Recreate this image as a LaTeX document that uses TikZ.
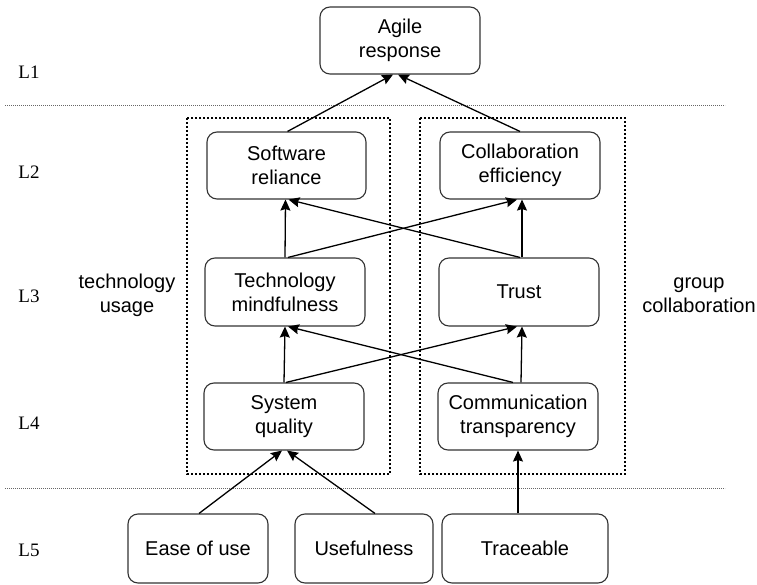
\documentclass[tikz,border=0pt]{standalone}
\usepackage{fontspec}
\setmainfont{Liberation Sans}
\newfontfamily\lvlfont{Liberation Serif}
\usetikzlibrary{arrows.meta, calc}
\definecolor{boxline}{HTML}{333333}
\tikzstyle{blk}=[draw=boxline, line width=1.1pt, rounded corners=10pt, align=center, inner sep=0pt, minimum width=160pt, minimum height=67pt, font=\fontsize{20}{24}\selectfont]
\tikzstyle{lvl}=[font=\lvlfont\fontsize{19}{22}\selectfont]
\tikzstyle{grp}=[align=center, font=\fontsize{20}{24}\selectfont]
\tikzstyle{sep}=[gray!80!black, line width=0.8pt, dash pattern=on 0.8pt off 1.2pt]
\tikzstyle{cluster}=[black, line width=2pt, dash pattern=on 2pt off 2pt]
\tikzstyle{lnk}=[line width=1.3pt, ->]
\tikzset{>={Stealth[length=11pt, width=10pt, inset=1.5pt]}}

\begin{document}
\begin{tikzpicture}[x=1pt, y=-1pt]
\useasboundingbox (0,0) rectangle (757,585);
\node[blk] (AR) at (400,40.5) {Agile\\response};
\node[blk, minimum width=159pt] (SR) at (286.5,165.5) {Software\\reliance};
\node[blk] (CE) at (520,165.5) {Collaboration\\efficiency};
\node[blk, minimum height=68pt] (TM) at (285,292) {Technology\\mindfulness};
\node[blk, minimum height=68pt] (TR) at (519,292) {Trust};
\node[blk] (SQ) at (284,416.5) {System\\quality};
\node[blk] (CT) at (518,416.5) {Communication\\transparency};
\node[blk, minimum width=140pt, minimum height=69pt] (EU) at (198,548.5) {Ease of use};
\node[blk, minimum width=138pt, minimum height=69pt] (UF) at (364,548.5) {Usefulness};
\node[blk, minimum width=166pt, minimum height=69pt] (TC) at (525,548.5) {Traceable};
\node[lvl] (L1) at (29,72) {L1};
\node[lvl] (L2) at (29,172) {L2};
\node[lvl] (L3) at (29,296) {L3};
\node[lvl] (L4) at (29,423) {L4};
\node[lvl] (L5) at (29,550) {L5};
\node[grp] (TU) at (127,295) {technology\\usage};
\node[grp] (GC) at (699,295) {group\\collaboration};
\draw[sep] (5,105) -- (725,105);
\draw[sep] (5,488) -- (725,488);
\draw[cluster] (187,118) rectangle (390,474);
\draw[cluster] (420,118) rectangle (625,474);
\draw[lnk] ($(EU.north)+(1,0)$) -- ($(SQ.south)+(-2,0)$);
\draw[lnk] ($(UF.north)+(11,0)$) -- ($(SQ.south)+(3,0)$);
\draw[lnk] (TC.north -| CT.south) -- (CT.south);
\draw[lnk] (SQ.north) -- (TM.south);
\draw[lnk] ($(SQ.north)+(2,0)$) -- ($(TR.south)+(-2,0)$);
\draw[lnk] ($(CT.north)+(-5,0)$) -- ($(TM.south)+(3,0)$);
\draw[lnk] ($(CT.north)+(3,0)$) -- ($(TR.south)+(3,0)$);
\draw[lnk] (TM.north) -- ($(SR.south)+(-1,0)$);
\draw[lnk] ($(TM.north)+(3,0)$) -- ($(CE.south)+(-3,0)$);
\draw[lnk] ($(TR.north)+(1,0)$) -- ($(SR.south)+(2,0)$);
\draw[lnk] ($(TR.north)+(3,0)$) -- ($(CE.south)+(2,0)$);
\draw[lnk] ($(SR.north)+(1,0)$) -- ($(AR.south)+(-7,0)$);
\draw[lnk] (CE.north) -- ($(AR.south)+(-2,0)$);
\end{tikzpicture}
\end{document}
